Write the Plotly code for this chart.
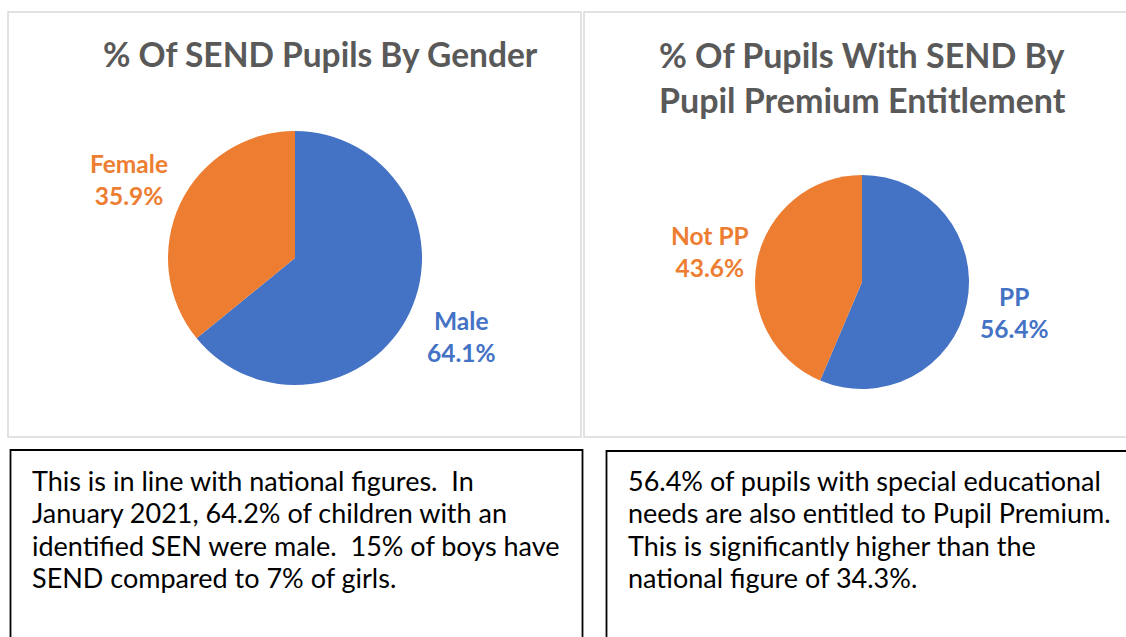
import math
import plotly.graph_objects as go

# ---- data ----
gender_labels = ["Male", "Female"]
gender_values = [64.1, 35.9]
pp_labels = ["PP", "Not PP"]
pp_values = [56.4, 43.6]
slice_colors = ["#4472C4", "#ED7D31"]

title_gender = ["% Of SEND Pupils By Gender"]
title_pp = ["% Of Pupils With SEND By", "Pupil Premium Entitlement"]

note_gender = [
    "This is in line with national figures.\u00a0 In",
    "January 2021, 64.2% of children with an",
    "identified SEN were male.\u00a0 15% of boys have",
    "SEND compared to 7% of girls.",
]
note_pp = [
    "56.4% of pupils with special educational",
    "needs are also entitled to Pupil Premium.",
    "This is significantly higher than the",
    "national figure of 34.3%.",
]

W, H = 1126, 637
FONT = "Lato"
TITLE_GRAY = "#595959"


def px(x):
    return x / W


def py(y):
    return 1 - y / H


fig = go.Figure()
annotations = []


def add_pie(labels, values, cx, cy, r):
    fig.add_trace(go.Pie(
        labels=labels,
        values=values,
        sort=False,
        direction="clockwise",
        rotation=0,
        marker=dict(colors=slice_colors, line=dict(width=0)),
        textinfo="none",
        hoverinfo="skip",
        showlegend=False,
        domain=dict(x=[px(cx - r), px(cx + r)], y=[py(cy + r), py(cy - r)]),
    ))
    # data labels placed along each slice's mid-angle (clockwise from 12 o'clock)
    total = sum(values)
    cum = 0.0
    for lab, val, col in zip(labels, values, slice_colors):
        mid = (cum + val / 2) / total * 2 * math.pi
        cum += val
        d = r * 1.45
        lx = cx + d * math.sin(mid)
        ly = cy - d * math.cos(mid)
        annotations.append(dict(
            text=f"{lab}<br>{val / total * 100:.1f}%",
            x=px(lx), y=py(ly), xref="paper", yref="paper",
            showarrow=False, xanchor="center", yanchor="middle", align="center",
            font=dict(family=FONT, size=24.5, color=col, weight="bold"),
        ))


add_pie(gender_labels, gender_values, 295, 258, 127)
add_pie(pp_labels, pp_values, 862, 282, 107)

shapes = [
    # chart panels
    dict(type="rect", xref="paper", yref="paper", x0=px(8), x1=px(581), y0=py(437), y1=py(12),
         line=dict(color="#d9d9d9", width=1.5)),
    dict(type="rect", xref="paper", yref="paper", x0=px(584), x1=px(1135), y0=py(437), y1=py(12),
         line=dict(color="#d9d9d9", width=1.5)),
    # text boxes
    dict(type="rect", xref="paper", yref="paper", x0=px(10.5), x1=px(582.5), y0=py(650), y1=py(450),
         line=dict(color="#000000", width=1.8)),
    dict(type="rect", xref="paper", yref="paper", x0=px(606.5), x1=px(1140), y0=py(650), y1=py(451),
         line=dict(color="#000000", width=1.8)),
]

# titles
annotations.append(dict(text=title_gender[0], x=px(320), y=py(54), xref="paper", yref="paper",
                        showarrow=False, xanchor="center", yanchor="middle",
                        font=dict(family=FONT, size=33.5, color=TITLE_GRAY, weight="bold")))
for i, t in enumerate(title_pp):
    annotations.append(dict(text=t, x=px(862), y=py(54 + 45 * i), xref="paper", yref="paper",
                            showarrow=False, xanchor="center", yanchor="middle",
                            font=dict(family=FONT, size=34, color=TITLE_GRAY, weight="bold")))

# notes
for i, t in enumerate(note_gender):
    annotations.append(dict(text=t, x=px(30), y=py(480 + 32.5 * i), xref="paper", yref="paper",
                            showarrow=False, xanchor="left", yanchor="middle",
                            font=dict(family=FONT, size=27, color="#000000")))
for i, t in enumerate(note_pp):
    annotations.append(dict(text=t, x=px(626), y=py(480 + 32.5 * i), xref="paper", yref="paper",
                            showarrow=False, xanchor="left", yanchor="middle",
                            font=dict(family=FONT, size=27, color="#000000")))

fig.update_layout(
    width=W, height=H,
    margin=dict(l=0, r=0, t=0, b=0),
    paper_bgcolor="white",
    plot_bgcolor="white",
    shapes=shapes,
    annotations=annotations,
)

fig.write_html("out.html", config={"displayModeBar": False},
               post_script="document.body.style.margin='0';")
